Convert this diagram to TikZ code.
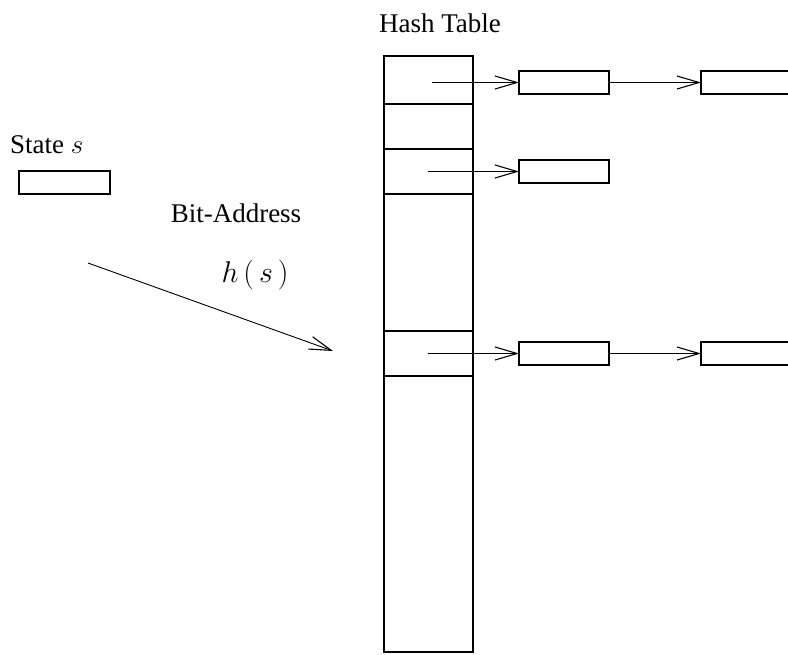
\documentclass[tikz,border=0pt]{standalone}
\usepackage{fix-cm}
\usepackage{fontspec}
\setmainfont{Liberation Serif}
\usetikzlibrary{arrows.meta}
\tikzset{
  lbl/.style={inner sep=0pt, font=\fontsize{27}{30}\selectfont},
  cell/.style={draw, line width=1.3pt, minimum width=89pt, inner sep=0pt, outer sep=0pt},
  rec/.style={draw, line width=1.3pt, minimum width=90pt, minimum height=23pt, inner sep=0pt, outer sep=0pt},
  ptr/.style={line width=1.1pt, -{Straight Barb[length=22pt,width=13pt,line width=1.1pt]}},
}
\begin{document}
\begin{tikzpicture}[x=1pt,y=-1pt]
\useasboundingbox (0,0) rectangle (788,654);
\clip (0,0) rectangle (788,654);

% labels
\node[lbl, anchor=base] (title) at (440,32) {Hash Table};
\node[lbl, anchor=base west] (state) at (10,153) {State $s$};
\node[lbl, anchor=base] (bitaddr) at (236,222) {Bit-Address};
\node[lbl, anchor=base, font=\fontsize{30}{33}\selectfont] (hs) at (255,282) {$h\,(\,s\,)$};

% state record
\node[rec, minimum width=91pt, anchor=north west] (sbox) at (19,171) {};

% hash table column
\node[cell, minimum height=48pt, anchor=north west] (c1) at (384,56) {};
\node[cell, minimum height=45pt, anchor=north west] (c2) at (384,104) {};
\node[cell, minimum height=45pt, anchor=north west] (c3) at (384,149) {};
\node[cell, minimum height=137pt, anchor=north west] (c4) at (384,194) {};
\node[cell, minimum height=45pt, anchor=north west] (c5) at (384,331) {};
\node[cell, minimum height=276pt, anchor=north west] (c6) at (384,376) {};

% chained records
\node[rec, anchor=north west] (r1a) at (519,71) {};
\node[rec, anchor=north west] (r1b) at (701,71) {};
\node[rec, anchor=north west] (r3a) at (519,160) {};
\node[rec, anchor=north west] (r5a) at (519,342) {};
\node[rec, anchor=north west] (r5b) at (701,342) {};

% pointer origins inside the buckets
\coordinate (p1) at (432,82.5);
\coordinate (p3) at (428,171.5);
\coordinate (p5) at (428,353.5);

\draw[ptr] (p1) -- (r1a.west);
\draw[ptr] (r1a.east) -- (r1b.west);
\draw[ptr] (p3) -- (r3a.west);
\draw[ptr] (p5) -- (r5a.west);
\draw[ptr] (r5a.east) -- (r5b.west);

% hash address arrow
\coordinate (hfrom) at (88,263);
\coordinate (hto) at (333,351);
\draw[ptr, line width=0.9pt] (hfrom) -- (hto);
\end{tikzpicture}
\end{document}
